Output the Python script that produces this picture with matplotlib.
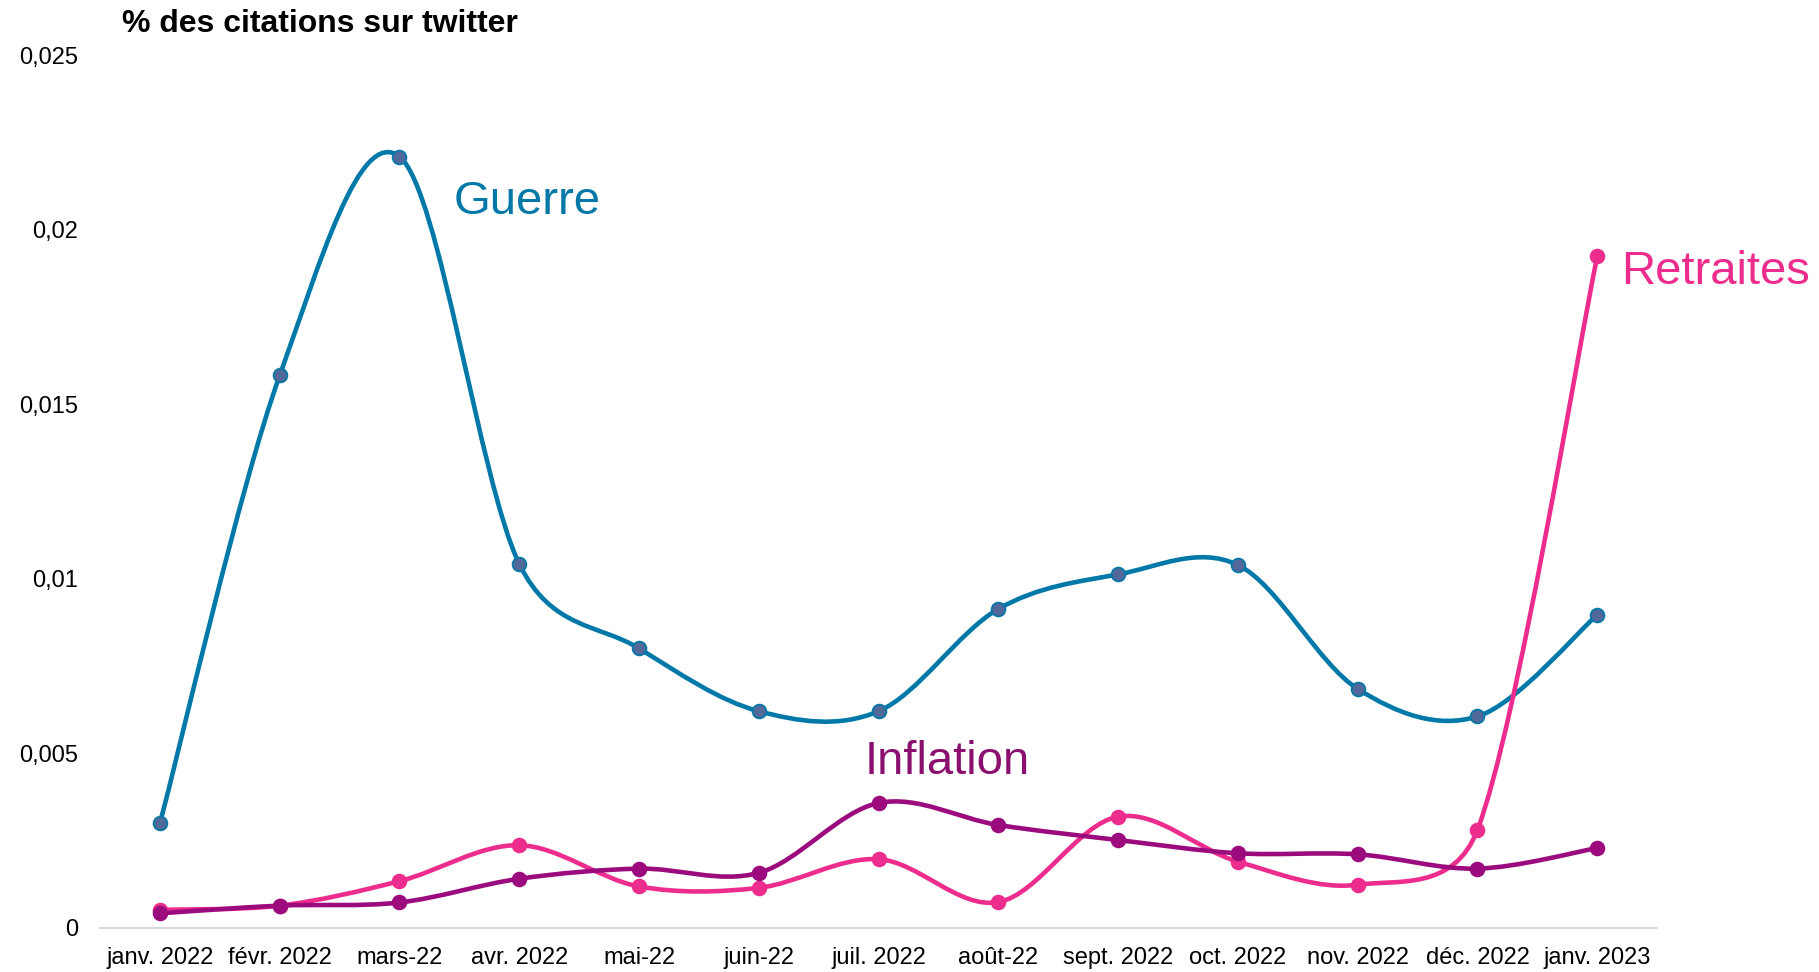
import numpy as np
import matplotlib.pyplot as plt
from matplotlib.path import Path
from matplotlib.patches import PathPatch

plt.rcParams['font.family'] = ['Liberation Sans', 'DejaVu Sans']

mois = ["janv. 2022", "févr. 2022", "mars-22", "avr. 2022", "mai-22", "juin-22",
        "juil. 2022", "août-22", "sept. 2022", "oct. 2022", "nov. 2022",
        "déc. 2022", "janv. 2023"]
guerre = [0.00300, 0.01583, 0.02210, 0.01043, 0.00801, 0.00621, 0.00621,
          0.00914, 0.01013, 0.01040, 0.00685, 0.00606, 0.00897]
retraites = [0.00052, 0.00064, 0.00134, 0.00237, 0.00119, 0.00115, 0.00197,
             0.00074, 0.00319, 0.00190, 0.00124, 0.00281, 0.01924]
inflation = [0.00042, 0.00064, 0.00073, 0.00141, 0.00170, 0.00158, 0.00358,
             0.00295, 0.00252, 0.00214, 0.00211, 0.00170, 0.00229]


def smooth_path(x, y, sx, sy):
    # courbe lissée façon Excel : Catmull-Rom, bras limités à la demi-corde
    pts = np.column_stack([x, y]).astype(float)
    px = pts * [sx, sy]  # en pixels pour les distances
    n = len(pts)
    verts = [pts[0]]
    codes = [Path.MOVETO]
    for i in range(n - 1):
        i0, i3 = max(i - 1, 0), min(i + 2, n - 1)
        d12 = np.hypot(*(px[i + 1] - px[i]))
        d02 = np.hypot(*(px[i + 1] - px[i0]))
        d13 = np.hypot(*(px[i3] - px[i]))
        f1 = 1 / 6 if d02 / 6 < d12 / 2 else d12 / d02 / 2
        f2 = 1 / 6 if d13 / 6 < d12 / 2 else d12 / d13 / 2
        c1 = pts[i] + (pts[i + 1] - pts[i0]) * f1
        c2 = pts[i + 1] - (pts[i3] - pts[i]) * f2
        verts += [c1, c2, pts[i + 1]]
        codes += [Path.CURVE4] * 3
    return Path(verts, codes)


fig = plt.figure(figsize=(18.19, 9.72), dpi=100)
ax = fig.add_axes([0.055, 0.0453, 0.856, 0.8977])

ax.set_xlim(-0.5, 12.5)
ax.set_ylim(0, 0.025)
sx = 0.856 * 1819 / 13
sy = 0.8977 * 972 / 0.025

x = np.arange(len(mois))
series = [
    (guerre, "#0078A8", "#50699A"),
    (retraites, "#EC2D8D", "#EC2D8D"),
    (inflation, "#9C0B7E", "#9C0B7E"),
]
for vals, col, face in series:
    ax.add_patch(PathPatch(smooth_path(x, vals, sx, sy), fill=False, edgecolor=col,
                           lw=3.3, capstyle='round', zorder=2))
    ax.plot(x, vals, ls='none', marker='o', ms=10, mfc=face, mec=col,
            mew=1.2, zorder=3)

ax.set_yticks([0, 0.005, 0.01, 0.015, 0.02, 0.025])
ax.set_yticklabels(["0", "0,005", "0,01", "0,015", "0,02", "0,025"])
ax.set_xticks(x)
ax.set_xticklabels(mois)
ax.tick_params(axis='both', length=0, labelsize=17)
ax.tick_params(axis='x', pad=14)
ax.tick_params(axis='y', pad=16)

for s in ['top', 'right', 'left']:
    ax.spines[s].set_visible(False)
ax.spines['bottom'].set_color('#D9D9D9')
ax.spines['bottom'].set_linewidth(1.5)

fig.text(122 / 1819, 1 - 24 / 972, "% des citations sur twitter", fontsize=23,
         fontweight='bold', ha='left', va='center')

ax.text(2.45, 0.0208, "Guerre", color="#0078A8", fontsize=34, va='center')
ax.text(12.2, 0.0188, "Retraites", color="#EC2D8D", fontsize=34, va='center')
ax.text(5.88, 0.00475, "Inflation", color="#8A0F6F", fontsize=34, va='center')

fig.savefig("out.png", dpi=100)
